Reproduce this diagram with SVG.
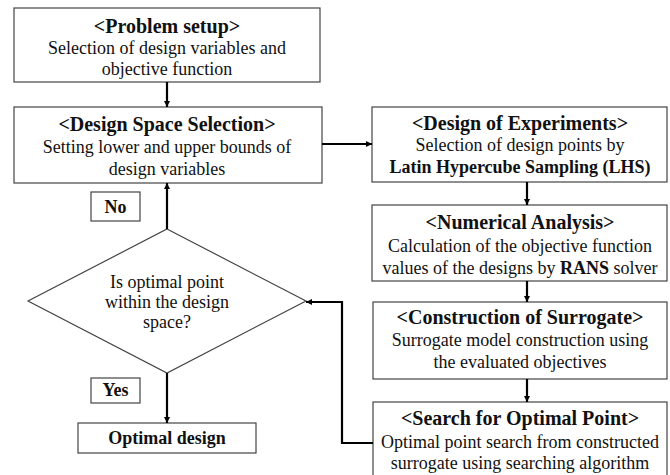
<svg xmlns="http://www.w3.org/2000/svg" width="670" height="475" viewBox="0 0 670 475">
<defs>
<marker id="ah" viewBox="0 0 10 10" refX="10" refY="5" markerWidth="6" markerHeight="6" orient="auto" markerUnits="userSpaceOnUse">
<path d="M0,0 L10,5 L0,10 z" fill="#000"/>
</marker>
<style>
.box{fill:#fff;stroke:#444;stroke-width:1.2}
text{font-family:'Liberation Serif','Times New Roman',serif;font-size:18px;fill:#111;text-anchor:middle}
.h{font-weight:bold;font-size:20px}
.b{font-weight:bold}
.c{fill:none;stroke:#000;stroke-width:2.2}
</style>
</defs>
<rect width="670" height="475" fill="#fff"/>
<g id="problem-setup">
<rect class="box" x="14" y="8" width="306" height="74"/>
<text class="h" x="167" y="33">&lt;Problem setup&gt;</text>
<text x="167" y="54">Selection of design variables and</text>
<text x="167" y="75">objective function</text>
</g>
<g id="design-space">
<rect class="box" x="14" y="107" width="308" height="76"/>
<text class="h" x="167" y="131">&lt;Design Space Selection&gt;</text>
<text x="167" y="153">Setting lower and upper bounds of</text>
<text x="167" y="175">design variables</text>
</g>
<g id="doe">
<rect class="box" x="372" y="107" width="295" height="75"/>
<text class="h" x="520" y="130">&lt;Design of Experiments&gt;</text>
<text x="520" y="151">Selection of design points by</text>
<text class="b" x="520" y="173">Latin Hypercube Sampling (LHS)</text>
</g>
<g id="numerical">
<rect class="box" x="372" y="205" width="295" height="76"/>
<text class="h" x="520" y="229">&lt;Numerical Analysis&gt;</text>
<text x="520" y="252">Calculation of the objective function</text>
<text x="520" y="274">values of the designs by <tspan class="b">RANS</tspan> solver</text>
</g>
<g id="surrogate">
<rect class="box" x="373" y="302" width="294" height="77"/>
<text class="h" x="520" y="324">&lt;Construction of Surrogate&gt;</text>
<text x="520" y="346">Surrogate model construction using</text>
<text x="520" y="368">the evaluated objectives</text>
</g>
<g id="search">
<rect class="box" x="373" y="402" width="294" height="80"/>
<text class="h" x="520" y="425">&lt;Search for Optimal Point&gt;</text>
<text x="520" y="448">Optimal point search from constructed</text>
<text x="520" y="469">surrogate using searching algorithm</text>
</g>
<g id="decision">
<polygon class="box" points="167,229 306,301 167,373 28,301"/>
<text x="167" y="288">Is optimal point</text>
<text x="167" y="308">within the design</text>
<text x="167" y="328">space?</text>
</g>
<g id="no-label">
<rect class="box" x="91" y="192" width="49" height="29"/>
<text class="b" x="115.5" y="213">No</text>
</g>
<g id="yes-label">
<rect class="box" x="91" y="378" width="49" height="25"/>
<text class="b" x="115.5" y="396">Yes</text>
</g>
<g id="optimal-design">
<rect class="box" x="78" y="423" width="178" height="30"/>
<text class="b" x="167" y="444">Optimal design</text>
</g>
<g id="connectors">
<line class="c" x1="167" y1="82" x2="167" y2="107" marker-end="url(#ah)"/>
<line class="c" x1="322" y1="144" x2="372" y2="144" marker-end="url(#ah)"/>
<line class="c" x1="527" y1="182" x2="527" y2="205" marker-end="url(#ah)"/>
<line class="c" x1="527" y1="281" x2="527" y2="302" marker-end="url(#ah)"/>
<line class="c" x1="527" y1="379" x2="527" y2="402" marker-end="url(#ah)"/>
<line class="c" x1="167" y1="229" x2="167" y2="183" marker-end="url(#ah)"/>
<line class="c" x1="167" y1="373" x2="167" y2="423" marker-end="url(#ah)"/>
<polyline class="c" points="373,443 342,443 342,302 306,302" marker-end="url(#ah)"/>
</g>
</svg>
